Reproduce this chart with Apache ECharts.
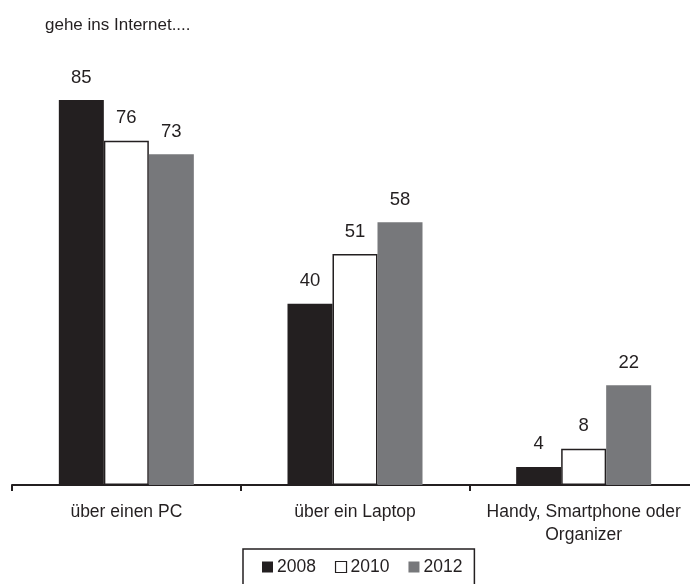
<!DOCTYPE html>
<html>
<head>
<meta charset="utf-8">
<script src="https://cdn.jsdelivr.net/npm/echarts@6/dist/echarts.min.js"></script>
<style>
  html, body { margin: 0; padding: 0; background: #fff; overflow: hidden; }
  #chart { width: 700px; height: 584px; }
</style>
</head>
<body>
<div id="chart"></div>
<script>
// Internet access by device, share in percent
const categories = ['über einen PC', 'über ein Laptop', 'Handy, Smartphone oder\nOrganizer'];
const years = ['2008', '2010', '2012'];
const values2008 = [85, 40, 4];
const values2010 = [76, 51, 8];
const values2012 = [73, 58, 22];

const FONT = '"Liberation Sans Narrow", "Arial Narrow", "Liberation Sans", sans-serif';
const INK = '#231f20';

const seriesStyles = [
  { color: INK, borderColor: INK, borderWidth: 0 },
  { color: '#ffffff', borderColor: INK, borderWidth: 1.5 },
  { color: '#77787b', borderColor: '#77787b', borderWidth: 0 }
];
const seriesData = [values2008, values2010, values2012];

const chart = echarts.init(document.getElementById('chart'), null, { renderer: 'canvas' });

chart.setOption({
  animation: false,
  backgroundColor: '#ffffff',
  title: {
    text: 'gehe ins Internet....',
    left: 40,
    top: 12,
    textStyle: { fontFamily: FONT, fontSize: 17, fontWeight: 'normal', color: INK }
  },
  legend: {
    data: years.map((y, i) => ({
      name: y,
      itemStyle: i === 1 ? { color: '#fff', borderColor: INK, borderWidth: 1.2 } : {}
    })),
    left: 243,
    top: 549,
    padding: [9, 12, 12, 19],
    itemGap: 19,
    itemWidth: 11,
    itemHeight: 11,
    icon: 'rect',
    borderColor: INK,
    borderWidth: 1.5,
    borderRadius: 0,
    textStyle: { fontFamily: FONT, fontSize: 17.5, color: INK, padding: [0, 0, 0, -1] }
  },
  grid: { left: 12, right: 2, top: 100, bottom: 99, containLabel: false },
  xAxis: {
    type: 'category',
    data: categories,
    axisLine: { lineStyle: { color: INK, width: 2 } },
    axisTick: { show: true, length: 6, lineStyle: { color: INK, width: 2 } },
    axisLabel: {
      fontFamily: FONT, fontSize: 17.5, color: INK, margin: 16, lineHeight: 23,
      interval: 0
    }
  },
  yAxis: {
    type: 'value',
    min: 0,
    max: 85,
    show: false,
    splitLine: { show: false }
  },
  series: years.map((y, i) => ({
    name: y,
    type: 'bar',
    data: seriesData[i],
    barWidth: 45,
    barGap: '0%',
    itemStyle: seriesStyles[i],
    label: {
      show: true,
      position: 'top',
      distance: 13,
      fontFamily: FONT,
      fontSize: 18.5,
      color: INK
    }
  }))
});
</script>
</body>
</html>
